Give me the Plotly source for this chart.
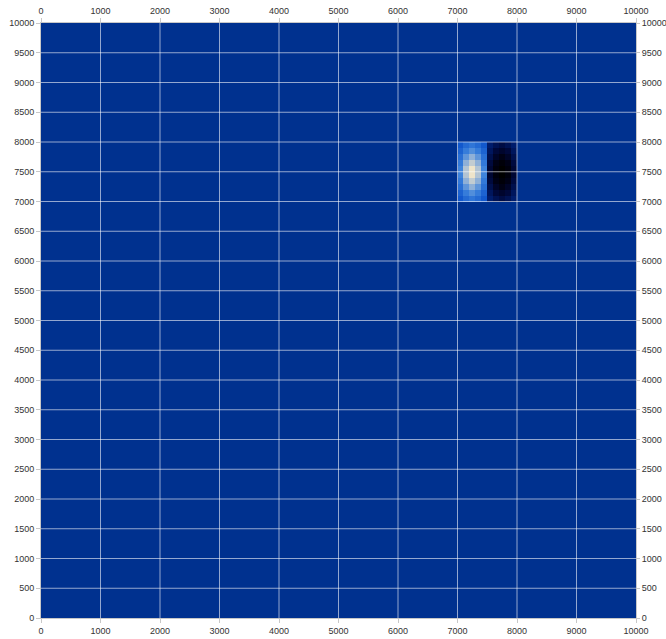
import numpy as np
import plotly.graph_objects as go

# Grid geometry: 100 x 100 cells of 100 units over a 10000 x 10000 domain
cell_size = 100
n_cells = 100
x_centers = np.arange(n_cells) * cell_size + cell_size / 2
y_centers = np.arange(n_cells) * cell_size + cell_size / 2

# Dipole anomaly (10 x 10 cells) located at x 7000-8000, y 7000-8000
anomaly_col0 = 70
anomaly_row0 = 70
anomaly = [
    [0.16, 0.28, 0.35, 0.28, 0.16, -0.16, -0.28, -0.35, -0.28, -0.16],
    [0.23, 0.40, 0.50, 0.40, 0.23, -0.23, -0.40, -0.50, -0.40, -0.23],
    [0.31, 0.54, 0.68, 0.54, 0.31, -0.31, -0.54, -0.68, -0.54, -0.31],
    [0.38, 0.68, 0.85, 0.68, 0.38, -0.38, -0.68, -0.85, -0.68, -0.38],
    [0.45, 0.80, 1.00, 0.80, 0.45, -0.45, -0.80, -1.00, -0.80, -0.45],
    [0.45, 0.80, 1.00, 0.80, 0.45, -0.45, -0.80, -1.00, -0.80, -0.45],
    [0.38, 0.68, 0.85, 0.68, 0.38, -0.38, -0.68, -0.85, -0.68, -0.38],
    [0.31, 0.54, 0.68, 0.54, 0.31, -0.31, -0.54, -0.68, -0.54, -0.31],
    [0.23, 0.40, 0.50, 0.40, 0.23, -0.23, -0.40, -0.50, -0.40, -0.23],
    [0.16, 0.28, 0.35, 0.28, 0.16, -0.16, -0.28, -0.35, -0.28, -0.16],
]

x_ticks = list(range(0, 10001, 1000))
y_ticks = list(range(0, 10001, 500))

z = np.zeros((n_cells, n_cells))
a = np.array(anomaly)
z[anomaly_row0:anomaly_row0 + a.shape[0], anomaly_col0:anomaly_col0 + a.shape[1]] = a

colorscale = [
    [0.0, "rgb(0,0,0)"],
    [0.15, "rgb(0,0,18)"],
    [0.3, "rgb(0,8,58)"],
    [0.42, "rgb(0,28,108)"],
    [0.5, "rgb(0,49,143)"],
    [0.58, "rgb(18,88,205)"],
    [0.72, "rgb(60,130,220)"],
    [0.85, "rgb(150,180,215)"],
    [1.0, "rgb(238,228,202)"],
]

fig = go.Figure()
fig.add_trace(go.Heatmap(
    x=x_centers, y=y_centers, z=z,
    zmin=-1, zmax=1, colorscale=colorscale, showscale=False,
    hoverinfo="skip",
))
# Invisible helper trace so the mirrored top/right axes are drawn
fig.add_trace(go.Scatter(
    x=x_ticks[:1], y=y_ticks[:1], xaxis="x2", yaxis="y2",
    mode="markers", marker=dict(opacity=0), hoverinfo="skip", showlegend=False,
))

grid_color = "rgba(255,255,255,0.58)"
shapes = []
for v in x_ticks[1:-1]:
    shapes.append(dict(type="line", xref="x", yref="y domain", x0=v, x1=v, y0=0, y1=1,
                       line=dict(color=grid_color, width=1), layer="above"))
for v in y_ticks[1:-1]:
    shapes.append(dict(type="line", xref="x domain", yref="y", x0=0, x1=1, y0=v, y1=v,
                       line=dict(color=grid_color, width=1), layer="above"))

tick_font = dict(family="Liberation Sans Narrow, Arial Narrow, sans-serif", size=9, color="#333333")
axis_common = dict(
    range=[0, 10000], showgrid=False, zeroline=False, automargin=False,
    showline=True, linecolor="#c8c8c8", linewidth=1,
    ticks="outside", tickcolor="#c8c8c8", tickwidth=1,
    tickfont=tick_font, tickformat="d", ticklabelstandoff=0,
)

fig.update_layout(
    width=666, height=639,
    margin=dict(l=41, r=30, t=23, b=21),
    paper_bgcolor="white", plot_bgcolor="rgb(0,49,143)",
    showlegend=False,
    shapes=shapes,
    xaxis=dict(**axis_common, ticklen=4, tickvals=x_ticks, side="bottom"),
    xaxis2=dict(**axis_common, ticklen=4, tickvals=x_ticks, side="top", overlaying="x", anchor="y2"),
    yaxis=dict(**axis_common, ticklen=4, tickvals=y_ticks, side="left"),
    yaxis2=dict(**axis_common, ticklen=3, tickvals=y_ticks, side="right", overlaying="y", anchor="x2"),
)

fig.write_html("out.html")
